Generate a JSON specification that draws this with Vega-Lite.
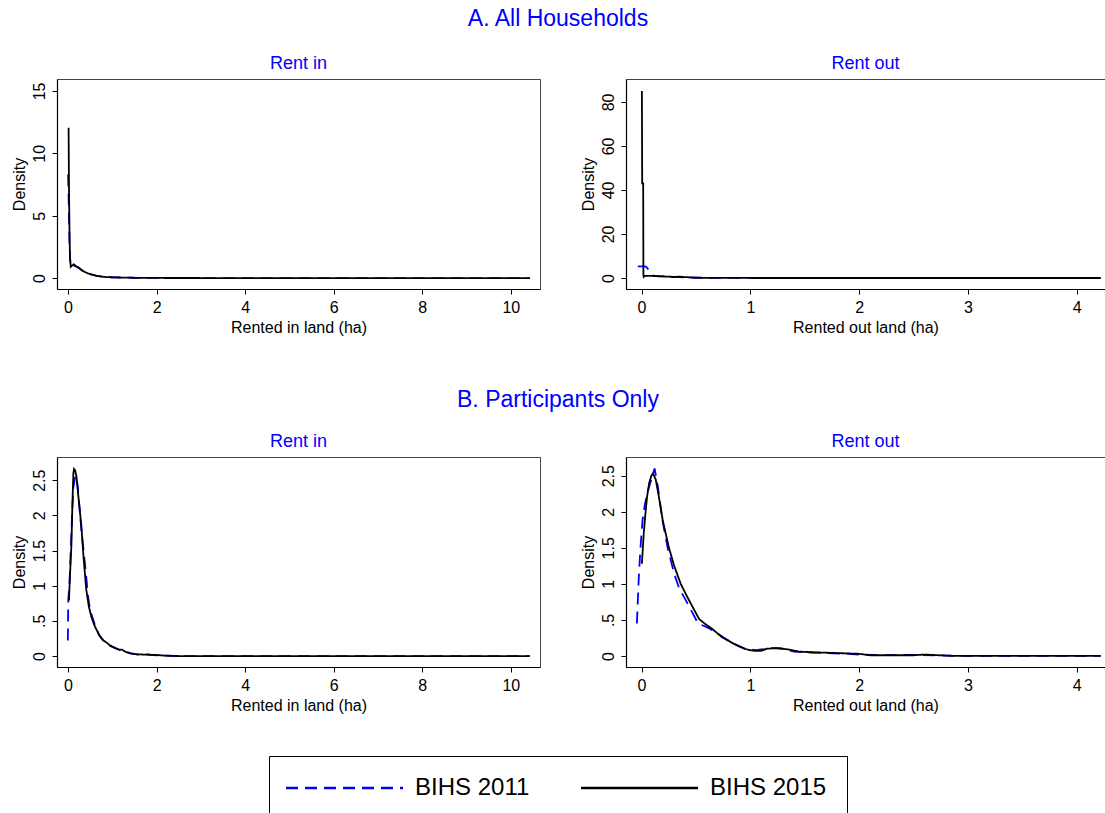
{
  "$schema": "https://vega.github.io/schema/vega-lite/v6.json",
  "background": "white",
  "padding": {"left": 10, "top": 7, "right": 0, "bottom": 0},
  "config": {
    "font": "Liberation Sans",
    "view": {"stroke": "#444444", "strokeWidth": 1},
    "axis": {"grid": false, "domainColor": "#000000", "domainWidth": 1.2, "tickColor": "#000000", "tickSize": 5, "labelColor": "#000000", "titleColor": "#000000", "labelFont": "Liberation Sans", "titleFont": "Liberation Sans", "labelFontSize": 16, "titleFontSize": 16, "titleFontWeight": "normal", "labelPadding": 5, "titlePadding": 4, "labelFlush": false, "labelOverlap": false},
    "axisY": {"labelAngle": 270, "labelAlign": "center", "labelBaseline": "bottom", "titlePadding": 4},
    "title": {"color": "#0000ff", "font": "Liberation Sans", "fontWeight": "normal", "fontSize": 18, "anchor": "middle", "offset": 6},
    "legend": {"symbolType": "M-3,0H20.4", "symbolSize": 100, "symbolStrokeWidth": 2.5, "labelFontSize": 24, "labelFont": "Liberation Sans", "labelColor": "#000000", "labelOffset": 102, "columnPadding": 46, "labelLimit": 400}
  },
  "datasets": {
    "d": [
      {"p":"ai","s":"BIHS 2011","x":0.0,"y":8.3},{"p":"ai","s":"BIHS 2011","x":0.01,"y":7.0},{"p":"ai","s":"BIHS 2011","x":0.02,"y":5.0},{"p":"ai","s":"BIHS 2011","x":0.035,"y":2.5},{"p":"ai","s":"BIHS 2011","x":0.05,"y":1.3},{"p":"ai","s":"BIHS 2011","x":0.065,"y":0.9},{"p":"ai","s":"BIHS 2011","x":0.1,"y":0.95},{"p":"ai","s":"BIHS 2011","x":0.14,"y":1.0},{"p":"ai","s":"BIHS 2011","x":0.2,"y":0.9},{"p":"ai","s":"BIHS 2011","x":0.27,"y":0.75},{"p":"ai","s":"BIHS 2011","x":0.35,"y":0.55},{"p":"ai","s":"BIHS 2011","x":0.45,"y":0.38},{"p":"ai","s":"BIHS 2011","x":0.55,"y":0.27},{"p":"ai","s":"BIHS 2011","x":0.65,"y":0.18},{"p":"ai","s":"BIHS 2011","x":0.8,"y":0.1},{"p":"ai","s":"BIHS 2011","x":1.0,"y":0.06},{"p":"ai","s":"BIHS 2011","x":1.3,"y":0.03},{"p":"ai","s":"BIHS 2011","x":1.6,"y":0.015},{"p":"ai","s":"BIHS 2011","x":2.0,"y":0.005},{"p":"ai","s":"BIHS 2011","x":3.0,"y":0},{"p":"ai","s":"BIHS 2011","x":10.43,"y":0},
      {"p":"ai","s":"BIHS 2015","x":0.012,"y":12.05},{"p":"ai","s":"BIHS 2015","x":0.02,"y":7.5},{"p":"ai","s":"BIHS 2015","x":0.035,"y":3.0},{"p":"ai","s":"BIHS 2015","x":0.045,"y":1.6},{"p":"ai","s":"BIHS 2015","x":0.06,"y":0.9},{"p":"ai","s":"BIHS 2015","x":0.09,"y":1.0},{"p":"ai","s":"BIHS 2015","x":0.13,"y":1.1},{"p":"ai","s":"BIHS 2015","x":0.17,"y":0.95},{"p":"ai","s":"BIHS 2015","x":0.23,"y":0.85},{"p":"ai","s":"BIHS 2015","x":0.3,"y":0.65},{"p":"ai","s":"BIHS 2015","x":0.37,"y":0.5},{"p":"ai","s":"BIHS 2015","x":0.45,"y":0.37},{"p":"ai","s":"BIHS 2015","x":0.55,"y":0.25},{"p":"ai","s":"BIHS 2015","x":0.68,"y":0.15},{"p":"ai","s":"BIHS 2015","x":0.85,"y":0.08},{"p":"ai","s":"BIHS 2015","x":1.05,"y":0.05},{"p":"ai","s":"BIHS 2015","x":1.3,"y":0.03},{"p":"ai","s":"BIHS 2015","x":1.6,"y":0.015},{"p":"ai","s":"BIHS 2015","x":2.0,"y":0.005},{"p":"ai","s":"BIHS 2015","x":3.0,"y":0},{"p":"ai","s":"BIHS 2015","x":6.0,"y":0},{"p":"ai","s":"BIHS 2015","x":10.43,"y":0},
      {"p":"ao","s":"BIHS 2011","x":-0.035,"y":5.3},{"p":"ao","s":"BIHS 2011","x":0.0,"y":5.3},{"p":"ao","s":"BIHS 2011","x":0.04,"y":5.2},{"p":"ao","s":"BIHS 2011","x":0.06,"y":4.0},{"p":"ao","s":"BIHS 2011","x":0.09,"y":2.3},{"p":"ao","s":"BIHS 2011","x":0.11,"y":1.0},{"p":"ao","s":"BIHS 2011","x":0.2,"y":0.75},{"p":"ao","s":"BIHS 2011","x":0.28,"y":0.4},{"p":"ao","s":"BIHS 2011","x":0.35,"y":0.35},{"p":"ao","s":"BIHS 2011","x":0.42,"y":0.2},{"p":"ao","s":"BIHS 2011","x":0.5,"y":0.1},{"p":"ao","s":"BIHS 2011","x":0.7,"y":0.03},{"p":"ao","s":"BIHS 2011","x":1.0,"y":0.01},{"p":"ao","s":"BIHS 2011","x":1.5,"y":0},{"p":"ao","s":"BIHS 2011","x":4.22,"y":0},
      {"p":"ao","s":"BIHS 2015","x":0.003,"y":85},{"p":"ao","s":"BIHS 2015","x":0.006,"y":43},{"p":"ao","s":"BIHS 2015","x":0.015,"y":43},{"p":"ao","s":"BIHS 2015","x":0.017,"y":1.5},{"p":"ao","s":"BIHS 2015","x":0.02,"y":0.5},{"p":"ao","s":"BIHS 2015","x":0.03,"y":1.0},{"p":"ao","s":"BIHS 2015","x":0.1,"y":1.0},{"p":"ao","s":"BIHS 2015","x":0.15,"y":0.8},{"p":"ao","s":"BIHS 2015","x":0.2,"y":0.7},{"p":"ao","s":"BIHS 2015","x":0.3,"y":0.5},{"p":"ao","s":"BIHS 2015","x":0.35,"y":0.6},{"p":"ao","s":"BIHS 2015","x":0.4,"y":0.4},{"p":"ao","s":"BIHS 2015","x":0.45,"y":0.3},{"p":"ao","s":"BIHS 2015","x":0.5,"y":0.15},{"p":"ao","s":"BIHS 2015","x":0.6,"y":0.05},{"p":"ao","s":"BIHS 2015","x":0.8,"y":0.02},{"p":"ao","s":"BIHS 2015","x":1.2,"y":0},{"p":"ao","s":"BIHS 2015","x":2.5,"y":0},{"p":"ao","s":"BIHS 2015","x":4.22,"y":0},
      {"p":"bi","s":"BIHS 2011","x":-0.005,"y":0.22},{"p":"bi","s":"BIHS 2011","x":0.005,"y":0.8},{"p":"bi","s":"BIHS 2011","x":0.03,"y":1.0},{"p":"bi","s":"BIHS 2011","x":0.06,"y":1.5},{"p":"bi","s":"BIHS 2011","x":0.09,"y":2.0},{"p":"bi","s":"BIHS 2011","x":0.12,"y":2.4},{"p":"bi","s":"BIHS 2011","x":0.16,"y":2.55},{"p":"bi","s":"BIHS 2011","x":0.19,"y":2.56},{"p":"bi","s":"BIHS 2011","x":0.22,"y":2.4},{"p":"bi","s":"BIHS 2011","x":0.26,"y":2.1},{"p":"bi","s":"BIHS 2011","x":0.3,"y":1.8},{"p":"bi","s":"BIHS 2011","x":0.35,"y":1.5},{"p":"bi","s":"BIHS 2011","x":0.4,"y":1.2},{"p":"bi","s":"BIHS 2011","x":0.45,"y":0.85},{"p":"bi","s":"BIHS 2011","x":0.5,"y":0.65},{"p":"bi","s":"BIHS 2011","x":0.6,"y":0.45},{"p":"bi","s":"BIHS 2011","x":0.7,"y":0.3},{"p":"bi","s":"BIHS 2011","x":0.8,"y":0.22},{"p":"bi","s":"BIHS 2011","x":0.9,"y":0.16},{"p":"bi","s":"BIHS 2011","x":1.0,"y":0.13},{"p":"bi","s":"BIHS 2011","x":1.1,"y":0.1},{"p":"bi","s":"BIHS 2011","x":1.2,"y":0.08},{"p":"bi","s":"BIHS 2011","x":1.3,"y":0.06},{"p":"bi","s":"BIHS 2011","x":1.45,"y":0.03},{"p":"bi","s":"BIHS 2011","x":1.6,"y":0.02},{"p":"bi","s":"BIHS 2011","x":1.75,"y":0.025},{"p":"bi","s":"BIHS 2011","x":2.0,"y":0.01},{"p":"bi","s":"BIHS 2011","x":2.2,"y":0.005},{"p":"bi","s":"BIHS 2011","x":2.5,"y":0},{"p":"bi","s":"BIHS 2011","x":10.43,"y":0},
      {"p":"bi","s":"BIHS 2015","x":0.02,"y":0.79},{"p":"bi","s":"BIHS 2015","x":0.04,"y":1.1},{"p":"bi","s":"BIHS 2015","x":0.075,"y":1.57},{"p":"bi","s":"BIHS 2015","x":0.1,"y":2.2},{"p":"bi","s":"BIHS 2015","x":0.12,"y":2.6},{"p":"bi","s":"BIHS 2015","x":0.135,"y":2.66},{"p":"bi","s":"BIHS 2015","x":0.16,"y":2.64},{"p":"bi","s":"BIHS 2015","x":0.19,"y":2.55},{"p":"bi","s":"BIHS 2015","x":0.22,"y":2.35},{"p":"bi","s":"BIHS 2015","x":0.26,"y":2.1},{"p":"bi","s":"BIHS 2015","x":0.3,"y":1.85},{"p":"bi","s":"BIHS 2015","x":0.35,"y":1.4},{"p":"bi","s":"BIHS 2015","x":0.41,"y":0.95},{"p":"bi","s":"BIHS 2015","x":0.47,"y":0.7},{"p":"bi","s":"BIHS 2015","x":0.53,"y":0.55},{"p":"bi","s":"BIHS 2015","x":0.6,"y":0.43},{"p":"bi","s":"BIHS 2015","x":0.7,"y":0.3},{"p":"bi","s":"BIHS 2015","x":0.78,"y":0.23},{"p":"bi","s":"BIHS 2015","x":0.85,"y":0.2},{"p":"bi","s":"BIHS 2015","x":0.95,"y":0.15},{"p":"bi","s":"BIHS 2015","x":1.05,"y":0.12},{"p":"bi","s":"BIHS 2015","x":1.15,"y":0.09},{"p":"bi","s":"BIHS 2015","x":1.22,"y":0.09},{"p":"bi","s":"BIHS 2015","x":1.3,"y":0.06},{"p":"bi","s":"BIHS 2015","x":1.4,"y":0.04},{"p":"bi","s":"BIHS 2015","x":1.55,"y":0.025},{"p":"bi","s":"BIHS 2015","x":1.75,"y":0.02},{"p":"bi","s":"BIHS 2015","x":2.0,"y":0.015},{"p":"bi","s":"BIHS 2015","x":2.2,"y":0.005},{"p":"bi","s":"BIHS 2015","x":2.5,"y":0},{"p":"bi","s":"BIHS 2015","x":6.0,"y":0},{"p":"bi","s":"BIHS 2015","x":10.43,"y":0},
      {"p":"bo","s":"BIHS 2011","x":-0.043,"y":0.45},{"p":"bo","s":"BIHS 2011","x":-0.025,"y":1.1},{"p":"bo","s":"BIHS 2011","x":-0.01,"y":1.5},{"p":"bo","s":"BIHS 2011","x":0.01,"y":1.9},{"p":"bo","s":"BIHS 2011","x":0.03,"y":2.1},{"p":"bo","s":"BIHS 2011","x":0.06,"y":2.3},{"p":"bo","s":"BIHS 2011","x":0.09,"y":2.45},{"p":"bo","s":"BIHS 2011","x":0.12,"y":2.6},{"p":"bo","s":"BIHS 2011","x":0.15,"y":2.35},{"p":"bo","s":"BIHS 2011","x":0.19,"y":1.9},{"p":"bo","s":"BIHS 2011","x":0.24,"y":1.5},{"p":"bo","s":"BIHS 2011","x":0.3,"y":1.14},{"p":"bo","s":"BIHS 2011","x":0.35,"y":0.92},{"p":"bo","s":"BIHS 2011","x":0.39,"y":0.82},{"p":"bo","s":"BIHS 2011","x":0.45,"y":0.65},{"p":"bo","s":"BIHS 2011","x":0.52,"y":0.45},{"p":"bo","s":"BIHS 2011","x":0.6,"y":0.4},{"p":"bo","s":"BIHS 2011","x":0.68,"y":0.33},{"p":"bo","s":"BIHS 2011","x":0.75,"y":0.26},{"p":"bo","s":"BIHS 2011","x":0.85,"y":0.17},{"p":"bo","s":"BIHS 2011","x":0.95,"y":0.1},{"p":"bo","s":"BIHS 2011","x":1.0,"y":0.09},{"p":"bo","s":"BIHS 2011","x":1.05,"y":0.08},{"p":"bo","s":"BIHS 2011","x":1.1,"y":0.09},{"p":"bo","s":"BIHS 2011","x":1.2,"y":0.11},{"p":"bo","s":"BIHS 2011","x":1.3,"y":0.1},{"p":"bo","s":"BIHS 2011","x":1.4,"y":0.06},{"p":"bo","s":"BIHS 2011","x":1.5,"y":0.05},{"p":"bo","s":"BIHS 2011","x":1.7,"y":0.04},{"p":"bo","s":"BIHS 2011","x":1.9,"y":0.03},{"p":"bo","s":"BIHS 2011","x":2.0,"y":0.02},{"p":"bo","s":"BIHS 2011","x":2.2,"y":0.01},{"p":"bo","s":"BIHS 2011","x":2.5,"y":0.015},{"p":"bo","s":"BIHS 2011","x":2.7,"y":0.01},{"p":"bo","s":"BIHS 2011","x":2.9,"y":0},{"p":"bo","s":"BIHS 2011","x":4.22,"y":0},
      {"p":"bo","s":"BIHS 2015","x":0.003,"y":1.28},{"p":"bo","s":"BIHS 2015","x":0.02,"y":1.7},{"p":"bo","s":"BIHS 2015","x":0.034,"y":1.95},{"p":"bo","s":"BIHS 2015","x":0.05,"y":2.2},{"p":"bo","s":"BIHS 2015","x":0.07,"y":2.4},{"p":"bo","s":"BIHS 2015","x":0.09,"y":2.5},{"p":"bo","s":"BIHS 2015","x":0.105,"y":2.53},{"p":"bo","s":"BIHS 2015","x":0.13,"y":2.45},{"p":"bo","s":"BIHS 2015","x":0.16,"y":2.2},{"p":"bo","s":"BIHS 2015","x":0.195,"y":1.88},{"p":"bo","s":"BIHS 2015","x":0.25,"y":1.51},{"p":"bo","s":"BIHS 2015","x":0.3,"y":1.25},{"p":"bo","s":"BIHS 2015","x":0.36,"y":1.0},{"p":"bo","s":"BIHS 2015","x":0.42,"y":0.82},{"p":"bo","s":"BIHS 2015","x":0.48,"y":0.65},{"p":"bo","s":"BIHS 2015","x":0.53,"y":0.51},{"p":"bo","s":"BIHS 2015","x":0.58,"y":0.45},{"p":"bo","s":"BIHS 2015","x":0.65,"y":0.375},{"p":"bo","s":"BIHS 2015","x":0.74,"y":0.26},{"p":"bo","s":"BIHS 2015","x":0.8,"y":0.21},{"p":"bo","s":"BIHS 2015","x":0.87,"y":0.15},{"p":"bo","s":"BIHS 2015","x":0.95,"y":0.1},{"p":"bo","s":"BIHS 2015","x":1.0,"y":0.08},{"p":"bo","s":"BIHS 2015","x":1.05,"y":0.07},{"p":"bo","s":"BIHS 2015","x":1.1,"y":0.07},{"p":"bo","s":"BIHS 2015","x":1.15,"y":0.1},{"p":"bo","s":"BIHS 2015","x":1.25,"y":0.11},{"p":"bo","s":"BIHS 2015","x":1.35,"y":0.09},{"p":"bo","s":"BIHS 2015","x":1.45,"y":0.06},{"p":"bo","s":"BIHS 2015","x":1.6,"y":0.05},{"p":"bo","s":"BIHS 2015","x":1.8,"y":0.04},{"p":"bo","s":"BIHS 2015","x":2.0,"y":0.03},{"p":"bo","s":"BIHS 2015","x":2.1,"y":0.01},{"p":"bo","s":"BIHS 2015","x":2.3,"y":0.01},{"p":"bo","s":"BIHS 2015","x":2.5,"y":0.01},{"p":"bo","s":"BIHS 2015","x":2.6,"y":0.02},{"p":"bo","s":"BIHS 2015","x":2.8,"y":0.005},{"p":"bo","s":"BIHS 2015","x":2.9,"y":0},{"p":"bo","s":"BIHS 2015","x":4.22,"y":0}
    ]
  },
  "resolve": {"scale": {"color": "shared", "strokeDash": "shared"}, "legend": {"color": "shared", "strokeDash": "shared"}},
  "spacing": 52,
  "vconcat": [
    {
      "title": {"text": "A. All Households", "fontSize": 23, "offset": 24},
      "spacing": 38,
      "resolve": {"scale": {"color": "shared", "strokeDash": "shared"}, "legend": {"color": "shared", "strokeDash": "shared"}},
      "hconcat": [
        {
          "width": 483, "height": 210,
          "title": "Rent in",
          "data": {"name": "d"},
          "transform": [{"filter": "datum.p == 'ai'"}],
          "mark": {"type": "line", "strokeWidth": 1.8},
          "encoding": {
            "x": {"field": "x", "type": "quantitative", "scale": {"domain": [-0.25, 10.66], "nice": false, "zero": false}, "axis": {"values": [0, 2, 4, 6, 8, 10], "title": "Rented in land (ha)"}},
            "y": {"field": "y", "type": "quantitative", "scale": {"domain": [-0.88, 15.96], "nice": false, "zero": false}, "axis": {"values": [0, 5, 10, 15], "title": "Density"}},
            "color": {"field": "s", "type": "nominal", "scale": {"domain": ["BIHS 2011", "BIHS 2015"], "range": ["#0000ff", "#000000"]}, "legend": {"title": null, "orient": "none", "direction": "horizontal", "columns": 2, "legendX": 212, "legendY": 677, "strokeColor": "#000000", "padding": 20}},
            "strokeDash": {"field": "s", "type": "nominal", "scale": {"domain": ["BIHS 2011", "BIHS 2015"], "range": [[12, 7], [1, 0]]}, "legend": {"title": null, "orient": "none", "direction": "horizontal", "columns": 2, "legendX": 212, "legendY": 677, "strokeColor": "#000000", "padding": 20}}
          }
        },
        {
          "width": 479, "height": 210,
          "title": "Rent out",
          "data": {"name": "d"},
          "transform": [{"filter": "datum.p == 'ao'"}],
          "mark": {"type": "line", "strokeWidth": 1.8},
          "encoding": {
            "x": {"field": "x", "type": "quantitative", "scale": {"domain": [-0.143, 4.26], "nice": false, "zero": false}, "axis": {"values": [0, 1, 2, 3, 4], "title": "Rented out land (ha)"}},
            "y": {"field": "y", "type": "quantitative", "scale": {"domain": [-5.0, 90.4], "nice": false, "zero": false}, "axis": {"values": [0, 20, 40, 60, 80], "title": "Density"}},
            "color": {"field": "s", "type": "nominal", "scale": {"domain": ["BIHS 2011", "BIHS 2015"], "range": ["#0000ff", "#000000"]}, "legend": {"title": null, "orient": "none", "direction": "horizontal", "columns": 2, "legendX": 212, "legendY": 677, "strokeColor": "#000000", "padding": 20}},
            "strokeDash": {"field": "s", "type": "nominal", "scale": {"domain": ["BIHS 2011", "BIHS 2015"], "range": [[12, 7], [1, 0]]}, "legend": {"title": null, "orient": "none", "direction": "horizontal", "columns": 2, "legendX": 212, "legendY": 677, "strokeColor": "#000000", "padding": 20}}
          }
        }
      ]
    },
    {
      "title": {"text": "B. Participants Only", "fontSize": 23, "offset": 21},
      "spacing": 38,
      "resolve": {"scale": {"color": "shared", "strokeDash": "shared"}, "legend": {"color": "shared", "strokeDash": "shared"}},
      "hconcat": [
        {
          "width": 483, "height": 210,
          "title": "Rent in",
          "data": {"name": "d"},
          "transform": [{"filter": "datum.p == 'bi'"}],
          "mark": {"type": "line", "strokeWidth": 1.8},
          "encoding": {
            "x": {"field": "x", "type": "quantitative", "scale": {"domain": [-0.25, 10.66], "nice": false, "zero": false}, "axis": {"values": [0, 2, 4, 6, 8, 10], "title": "Rented in land (ha)"}},
            "y": {"field": "y", "type": "quantitative", "scale": {"domain": [-0.156, 2.83], "nice": false, "zero": false}, "axis": {"values": [0, 0.5, 1, 1.5, 2, 2.5], "labelExpr": "datum.value == 0.5 ? '.5' : format(datum.value, '~g')", "title": "Density"}},
            "color": {"field": "s", "type": "nominal", "scale": {"domain": ["BIHS 2011", "BIHS 2015"], "range": ["#0000ff", "#000000"]}, "legend": {"title": null, "orient": "none", "direction": "horizontal", "columns": 2, "legendX": 212, "legendY": 677, "strokeColor": "#000000", "padding": 20}},
            "strokeDash": {"field": "s", "type": "nominal", "scale": {"domain": ["BIHS 2011", "BIHS 2015"], "range": [[12, 7], [1, 0]]}, "legend": {"title": null, "orient": "none", "direction": "horizontal", "columns": 2, "legendX": 212, "legendY": 677, "strokeColor": "#000000", "padding": 20}}
          }
        },
        {
          "width": 479, "height": 210,
          "title": "Rent out",
          "data": {"name": "d"},
          "transform": [{"filter": "datum.p == 'bo'"}],
          "mark": {"type": "line", "strokeWidth": 1.8},
          "encoding": {
            "x": {"field": "x", "type": "quantitative", "scale": {"domain": [-0.143, 4.26], "nice": false, "zero": false}, "axis": {"values": [0, 1, 2, 3, 4], "title": "Rented out land (ha)"}},
            "y": {"field": "y", "type": "quantitative", "scale": {"domain": [-0.153, 2.76], "nice": false, "zero": false}, "axis": {"values": [0, 0.5, 1, 1.5, 2, 2.5], "labelExpr": "datum.value == 0.5 ? '.5' : format(datum.value, '~g')", "title": "Density"}},
            "color": {"field": "s", "type": "nominal", "scale": {"domain": ["BIHS 2011", "BIHS 2015"], "range": ["#0000ff", "#000000"]}, "legend": {"title": null, "orient": "none", "direction": "horizontal", "columns": 2, "legendX": 212, "legendY": 677, "strokeColor": "#000000", "padding": 20}},
            "strokeDash": {"field": "s", "type": "nominal", "scale": {"domain": ["BIHS 2011", "BIHS 2015"], "range": [[12, 7], [1, 0]]}, "legend": {"title": null, "orient": "none", "direction": "horizontal", "columns": 2, "legendX": 212, "legendY": 677, "strokeColor": "#000000", "padding": 20}}
          }
        }
      ]
    }
  ]
}
